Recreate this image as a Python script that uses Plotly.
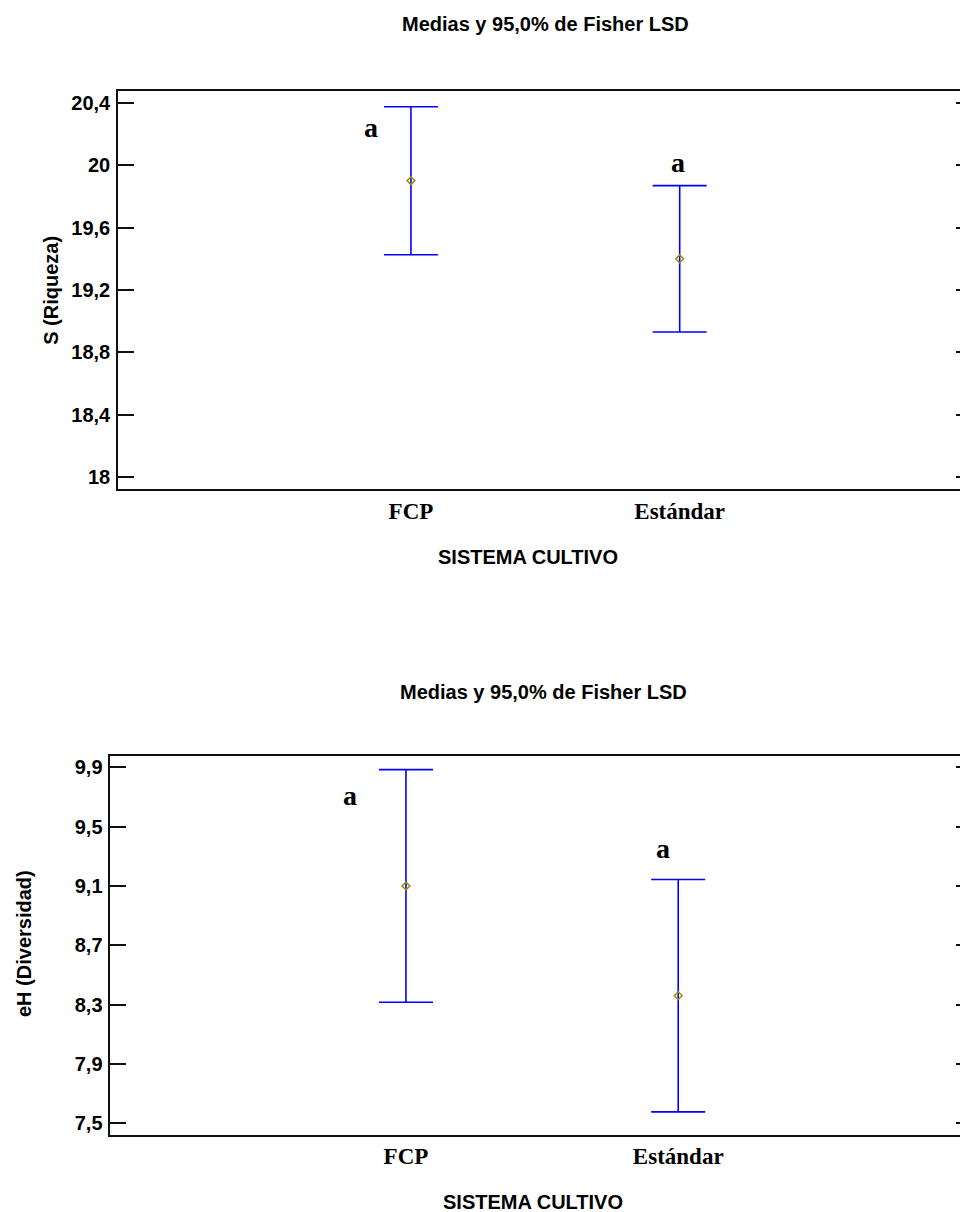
import plotly.graph_objects as go

# ---- data ----
categories = ["FCP", "Estándar"]
s_means = [19.90, 19.40]
s_ci = [0.474, 0.469]
eh_means = [9.10, 8.36]
eh_ci = [0.784, 0.783]
letters_s = ["a", "a"]
letters_eh = ["a", "a"]
s_ticks = [18.0, 18.4, 18.8, 19.2, 19.6, 20.0, 20.4]
s_ticktext = ["18", "18,4", "18,8", "19,2", "19,6", "20", "20,4"]
eh_ticks = [7.5, 7.9, 8.3, 8.7, 9.1, 9.5, 9.9]
eh_ticktext = ["7,5", "7,9", "8,3", "8,7", "9,1", "9,5", "9,9"]
title_text = "Medias y 95,0% de Fisher LSD"
x_title = "SISTEMA CULTIVO"
s_title = "S (Riqueza)"
eh_title = "eH (Diversidad)"

W, H = 960, 1212
SANS = "Liberation Sans, Arial, sans-serif"
SERIF = "Liberation Serif, Times New Roman, serif"
BLUE = "#0000ff"
OLIVE = "#9a9000"

def py(p):  # pixel y -> paper
    return 1 - p / H

def px(p):
    return p / W

fig = go.Figure()

x_idx = list(range(len(categories)))

fig.add_trace(go.Scatter(
    x=x_idx, y=s_means, mode="markers", xaxis="x", yaxis="y",
    marker=dict(symbol="diamond-open", size=6, color=OLIVE, line=dict(width=1.5, color=OLIVE)),
    error_y=dict(type="data", array=s_ci, symmetric=True, color=BLUE, thickness=1.6, width=27),
    showlegend=False, hoverinfo="skip"))
fig.add_trace(go.Scatter(
    x=x_idx, y=eh_means, mode="markers", xaxis="x2", yaxis="y2",
    marker=dict(symbol="diamond-open", size=6, color=OLIVE, line=dict(width=1.5, color=OLIVE)),
    error_y=dict(type="data", array=eh_ci, symmetric=True, color=BLUE, thickness=1.6, width=27),
    showlegend=False, hoverinfo="skip"))
# dummy traces for right-side tick axes
fig.add_trace(go.Scatter(x=[None], y=[None], xaxis="x", yaxis="y3", showlegend=False))
fig.add_trace(go.Scatter(x=[None], y=[None], xaxis="x2", yaxis="y4", showlegend=False))

s_range = [17.923, 20.475]
eh_range = [7.421, 9.978]

common_x = dict(showline=True, linecolor="#111111", linewidth=1.5, mirror=True,
                ticks="", showgrid=False, zeroline=False,
                tickmode="array", tickvals=x_idx, ticktext=categories,
                tickfont=dict(family=SERIF, size=23, color="black", weight="bold"))
common_y = dict(showline=True, linecolor="#111111", linewidth=1.5, mirror=False,
                ticks="inside", ticklen=16, tickwidth=1.5, tickcolor="#111111",
                showgrid=False, zeroline=False, tickmode="array",
                tickfont=dict(family=SANS, size=20, color="black", weight="bold"),
                ticklabelstandoff=2)
right_y = dict(showline=False, ticks="inside", ticklen=4, tickwidth=1.5, tickcolor="#111111",
               showticklabels=False, showgrid=False, zeroline=False, side="right",
               anchor="free", position=1.0, tickmode="array")

fig.update_layout(
    width=W, height=H, margin=dict(l=0, r=0, t=0, b=0),
    paper_bgcolor="white", plot_bgcolor="white",
    xaxis=dict(common_x, domain=[px(118), 1.0], range=[-1.090, 2.043], anchor="y",
               ticklabelstandoff=0),
    yaxis=dict(common_y, domain=[py(489.3), py(91)], range=s_range, anchor="x",
               tickvals=s_ticks, ticktext=s_ticktext),
    yaxis3=dict(right_y, overlaying="y", range=s_range, tickvals=s_ticks),
    xaxis2=dict(common_x, domain=[px(110.3), 1.0], range=[-1.086, 2.035], anchor="y2",
                ticklabelstandoff=0),
    yaxis2=dict(common_y, domain=[py(1135), py(755.7)], range=eh_range, anchor="x2",
                tickvals=eh_ticks, ticktext=eh_ticktext),
    yaxis4=dict(right_y, overlaying="y2", range=eh_range, tickvals=eh_ticks),
)

ann = []
title_font = dict(family=SANS, size=20, color="black", weight="bold")
ann.append(dict(text=title_text, x=px(545.8), y=py(23.5), xref="paper", yref="paper",
                showarrow=False, font=title_font, xanchor="center", yanchor="middle"))
ann.append(dict(text=title_text, x=px(543.3), y=py(692.3), xref="paper", yref="paper",
                showarrow=False, font=title_font, xanchor="center", yanchor="middle"))
ann.append(dict(text=x_title, x=px(527.5), y=py(556.5), xref="paper", yref="paper",
                showarrow=False, font=title_font, xanchor="center", yanchor="middle"))
ann.append(dict(text=x_title, x=px(532.5), y=py(1201.5), xref="paper", yref="paper",
                showarrow=False, font=title_font, xanchor="center", yanchor="middle"))
ann.append(dict(text=s_title, x=px(51), y=py(290.8), xref="paper", yref="paper",
                showarrow=False, font=title_font, textangle=-90, xanchor="center", yanchor="middle"))
ann.append(dict(text=eh_title, x=px(24), y=py(944), xref="paper", yref="paper",
                showarrow=False, font=title_font, textangle=-90, xanchor="center", yanchor="middle"))

letter_font = dict(family=SERIF, size=28, color="black", weight="bold")
# letters: (x index, y value, pixel x shift)
s_letter_pos = [(0, 20.22, -40), (1, 19.996, -2)]
eh_letter_pos = [(0, 9.696, -56), (1, 9.342, -15)]
for lt, (xi, yv, sh) in zip(letters_s, s_letter_pos):
    ann.append(dict(text=lt, x=xi, y=yv, xref="x", yref="y", showarrow=False,
                    font=letter_font, xshift=sh, yshift=3))
for lt, (xi, yv, sh) in zip(letters_eh, eh_letter_pos):
    ann.append(dict(text=lt, x=xi, y=yv, xref="x2", yref="y2", showarrow=False,
                    font=letter_font, xshift=sh, yshift=2))
fig.update_layout(annotations=ann)

fig.write_html(
    "out.html",
    config={"displayModeBar": False},
    post_script="document.body.style.margin='0';document.body.style.overflow='hidden';",
)
